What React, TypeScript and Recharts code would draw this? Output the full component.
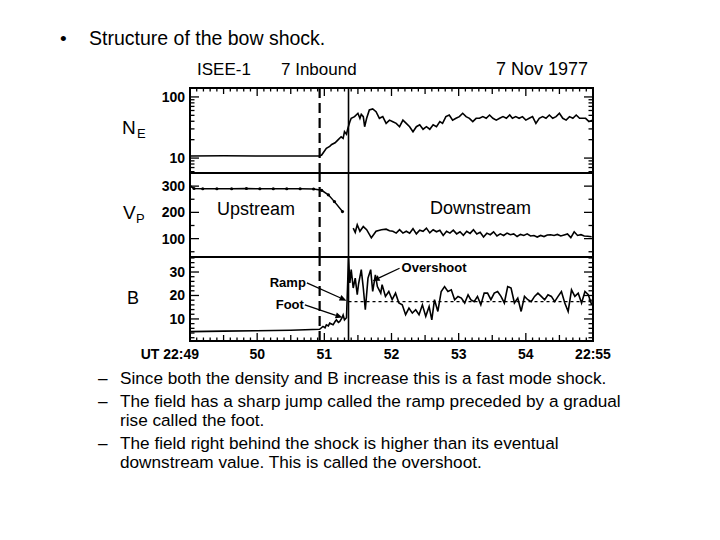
import React from "react";
import { LineChart, Line, XAxis, YAxis, ReferenceLine, ReferenceArea } from "recharts";

const FONT = "'Liberation Sans', Arial, Helvetica, sans-serif";

// time axis: minutes after 22:49 UT
const X_TICK_LABELS = ["UT 22:49", "50", "51", "52", "53", "54", "22:55"];
const FOOT_START = 1.93;
const SHOCK_RAMP = 2.36;

// electron density N_E (cm^-3)
const NE_T = [0, 0.5, 1.0, 1.5, 1.93, 1.96, 2.03, 2.08, 2.11, 2.16, 2.2, 2.25, 2.28, 2.3, 2.33, 2.35, 2.38, 2.4, 2.45, 2.5, 2.53, 2.55, 2.58, 2.6, 2.63, 2.67, 2.72, 2.77, 2.82, 2.87, 2.92, 2.97, 3.02, 3.07, 3.12, 3.17, 3.22, 3.27, 3.32, 3.37, 3.42, 3.47, 3.52, 3.57, 3.62, 3.67, 3.72, 3.76, 3.81, 3.86, 3.91, 3.96, 4.01, 4.06, 4.11, 4.16, 4.21, 4.26, 4.31, 4.36, 4.41, 4.46, 4.51, 4.56, 4.61, 4.66, 4.71, 4.76, 4.8, 4.85, 4.9, 4.95, 5.0, 5.05, 5.1, 5.15, 5.2, 5.25, 5.3, 5.35, 5.4, 5.45, 5.5, 5.55, 5.6, 5.65, 5.7, 5.75, 5.8, 5.84, 5.89, 5.94, 6.0];
const NE_V = [10.8, 10.9, 10.8, 10.8, 10.8, 11.2, 14.4, 15.5, 16.7, 17.8, 19.7, 22.3, 21, 27, 24.5, 30.6, 39.4, 44.7, 47.6, 54, 44.7, 52, 47.6, 32.6, 44.7, 61.2, 63.6, 57.4, 44.7, 47.6, 37, 41.8, 39.4, 37, 32.6, 41.8, 37, 32.6, 27, 32.6, 35, 29.6, 32.6, 29.6, 35, 32.6, 39.4, 37, 47.6, 50.6, 41.8, 44.7, 47.6, 54, 47.6, 44.7, 39.4, 44.7, 44.7, 47.6, 44.7, 50.6, 44.7, 41.8, 44.7, 47.6, 44.7, 50.6, 44.7, 47.6, 44.7, 47.6, 41.8, 44.7, 47.6, 37, 44.7, 47.6, 44.7, 50.6, 44.7, 47.6, 54, 44.7, 41.8, 47.6, 44.7, 50.6, 44.7, 44.7, 44.7, 39.4, 42];
const NE_TICKS = [6, 7, 8, 9, 10, 20, 30, 40, 50, 60, 70, 80, 90, 100];
const NE_LABELS = [10, 100];

// proton velocity V_P (km/s)
const VP_UP_T = [0, 0.06, 0.19, 0.4, 0.62, 0.84, 1.04, 1.24, 1.44, 1.64, 1.84, 1.96, 2.06, 2.15, 2.27];
const VP_UP_V = [300, 291, 290, 290, 290, 291, 290, 290, 290, 290, 289, 284, 267, 241, 203];
const VP_DN_T = [2.43, 2.46, 2.49, 2.53, 2.58, 2.63, 2.7, 2.77, 2.85, 2.92, 2.97, 3.02, 3.07, 3.12, 3.17, 3.22, 3.27, 3.32, 3.37, 3.42, 3.47, 3.52, 3.57, 3.62, 3.67, 3.72, 3.77, 3.82, 3.87, 3.92, 3.97, 4.02, 4.07, 4.12, 4.17, 4.22, 4.27, 4.32, 4.37, 4.42, 4.47, 4.52, 4.57, 4.62, 4.67, 4.72, 4.77, 4.82, 4.87, 4.92, 4.97, 5.02, 5.07, 5.12, 5.17, 5.22, 5.27, 5.32, 5.37, 5.42, 5.47, 5.52, 5.57, 5.62, 5.67, 5.72, 5.77, 5.82, 5.87, 5.92, 5.98];
const VP_DN_V = [140, 124, 153, 128, 146, 134, 103, 128, 134, 136, 130, 128, 121, 134, 121, 128, 121, 138, 118, 132, 128, 140, 122, 134, 126, 132, 112, 128, 121, 132, 118, 126, 113, 128, 120, 134, 118, 124, 106, 121, 115, 126, 110, 118, 112, 121, 115, 118, 108, 116, 112, 118, 110, 112, 106, 112, 108, 114, 115, 112, 116, 110, 114, 118, 104, 126, 112, 115, 110, 109, 107];
const VP_TICKS = [50, 100, 150, 200, 250, 300];
const VP_LABELS = [100, 200, 300];

// magnetic field B (nT)
const B_T = [0, 0.5, 1.0, 1.5, 1.93, 1.98, 2.01, 2.03, 2.06, 2.08, 2.13, 2.16, 2.18, 2.21, 2.23, 2.26, 2.28, 2.3, 2.33, 2.36, 2.38, 2.4, 2.43, 2.46, 2.49, 2.51, 2.55, 2.58, 2.61, 2.65, 2.69, 2.72, 2.76, 2.79, 2.84, 2.86, 2.91, 2.96, 3.01, 3.06, 3.11, 3.16, 3.21, 3.26, 3.31, 3.36, 3.41, 3.46, 3.51, 3.56, 3.6, 3.64, 3.69, 3.74, 3.79, 3.84, 3.89, 3.94, 3.99, 4.04, 4.09, 4.14, 4.18, 4.23, 4.28, 4.33, 4.38, 4.43, 4.48, 4.53, 4.58, 4.63, 4.68, 4.73, 4.78, 4.83, 4.88, 4.93, 4.98, 5.03, 5.08, 5.13, 5.18, 5.23, 5.28, 5.33, 5.38, 5.43, 5.48, 5.53, 5.58, 5.63, 5.68, 5.73, 5.78, 5.83, 5.88, 5.93, 5.98];
const B_V = [4.6, 4.8, 5.0, 5.2, 5.6, 6.8, 6.2, 7.5, 7.0, 8.2, 7.5, 8.9, 9.6, 8.5, 8.9, 10.3, 11.7, 9.6, 10.5, 36, 25.3, 31, 23.2, 27.4, 20.3, 25, 31, 23.2, 13.9, 27.4, 31, 21.7, 28.8, 23.8, 21.0, 24.6, 19.6, 21.7, 18.2, 21.0, 16.8, 16.0, 11.8, 14.6, 12.5, 13.9, 11.8, 16.0, 11.1, 15.3, 9.6, 18.2, 13.2, 21.7, 23.8, 21.7, 22.4, 18.2, 19.6, 18.9, 16.8, 20.3, 18.2, 17.4, 19.6, 16.0, 21.0, 21.0, 18.2, 21.0, 21.7, 19.6, 16.8, 23.8, 23.2, 16.8, 18.9, 13.2, 19.6, 18.2, 17.4, 19.6, 21.0, 19.6, 18.2, 20.3, 19.6, 17.4, 19.6, 21.7, 16.8, 13.2, 22.4, 19.6, 21.0, 16.8, 21.7, 20.3, 16.0];
const B_DOWNSTREAM = 17.4;
const B_TICKS = [2, 4, 6, 8, 10, 12, 14, 16, 18, 20, 22, 24, 26, 28, 30, 32, 34, 36];
const B_LABELS = [10, 20, 30];

const BULLETS = [
  ["Since both the density and B increase this is a fast mode shock."],
  ["The field has a sharp jump called the ramp preceded by a gradual", "rise called the foot."],
  ["The field right behind the shock is higher than its eventual", "downstream value. This is called the overshoot."],
];

const rows = (t: number[], v: number[]) => t.map((x, i) => ({ t: x, v: v[i] }));
const neData = rows(NE_T, NE_V);
const vpUp = rows(VP_UP_T, VP_UP_V);
const vpDown = rows(VP_DN_T, VP_DN_V);
const bData = rows(B_T, B_V);

const X_TICKS = Array.from({ length: 61 }, (_, i) => i / 10);

const W = 720;
const H = 540;
const PLOT_LEFT = 190;
const PLOT_RIGHT = 593;
const NE_TOP = 88;
const NE_BOTTOM = 173;
const VP_BOTTOM = 257;
const B_BOTTOM = 341;
const LEFT_AXIS_W = 40;
const RIGHT_AXIS_W = 20;
const X_AXIS_H = 20;

const tickLen = (t: number) => {
  const r = Math.round(t * 10);
  if (r % 10 === 0) return 8;
  if (r % 5 === 0) return 6;
  return 3.5;
};

const topTick = (p: any) => {
  const { x, y, payload } = p;
  return <line x1={x} y1={y} x2={x} y2={y + tickLen(payload.value)} stroke="#000" strokeWidth={1.3} />;
};

const bottomTick = (p: any) => {
  const { x, y, payload } = p;
  const t = payload.value;
  const r = Math.round(t * 10);
  const idx = r / 10;
  return (
    <g>
      <line x1={x} y1={y} x2={x} y2={y - tickLen(t)} stroke="#000" strokeWidth={1.3} />
      {r % 10 === 0 && (
        <text x={idx === 0 ? x + 9 : x} y={y + 18} textAnchor={idx === 0 ? "end" : "middle"} fontSize={14} fontWeight="bold" fontFamily={FONT} fill="#000">
          {X_TICK_LABELS[idx]}
        </text>
      )}
    </g>
  );
};

const leftTick = (labels: number[]) => (p: any) => {
  const { x, y, payload } = p;
  const major = labels.includes(payload.value);
  return (
    <g>
      <line x1={x} y1={y} x2={x + (major ? 9 : 4.5)} y2={y} stroke="#000" strokeWidth={1.3} />
      {major && (
        <text x={x - 5} y={y + 5} textAnchor="end" fontSize={14} fontWeight="bold" fontFamily={FONT} fill="#000">
          {payload.value}
        </text>
      )}
    </g>
  );
};

const rightTick = (labels: number[]) => (p: any) => {
  const { x, y, payload } = p;
  const major = labels.includes(payload.value);
  return <line x1={x} y1={y} x2={x - (major ? 9 : 4.5)} y2={y} stroke="#000" strokeWidth={1.3} />;
};

const arrowShape = (text: string, side: "left" | "right") => (p: any) => {
  const { x1, y1, x2, y2 } = p;
  if (x1 == null) return null;
  const a = Math.atan2(y2 - y1, x2 - x1);
  const L = 7;
  const hw = 3;
  const bx = x2 - L * Math.cos(a);
  const by = y2 - L * Math.sin(a);
  const pts = `${x2},${y2} ${bx - hw * Math.sin(a)},${by + hw * Math.cos(a)} ${bx + hw * Math.sin(a)},${by - hw * Math.cos(a)}`;
  return (
    <g>
      <line x1={x1} y1={y1} x2={bx} y2={by} stroke="#000" strokeWidth={1.3} />
      <polygon points={pts} fill="#000" />
      <text
        x={side === "left" ? x1 - 1 : x1 + 2}
        y={y1 + 4}
        textAnchor={side === "left" ? "end" : "start"}
        fontSize={13}
        fontWeight="bold"
        fontFamily={FONT}
        fill="#000"
      >
        {text}
      </text>
    </g>
  );
};

const shockLines = [
  <ReferenceLine key="foot" x={FOOT_START} stroke="#000" strokeWidth={2.2} strokeDasharray="10 5" ifOverflow="visible" />,
  <ReferenceLine key="ramp" x={SHOCK_RAMP} stroke="#000" strokeWidth={1.6} ifOverflow="visible" />,
];

const yAxisProps = { interval: 0 as const, tickSize: 0, tickMargin: 0, axisLine: false, tickLine: false, allowDataOverflow: true };

const abs: React.CSSProperties = { position: "absolute", left: 0, top: 0 };

const sideMargins = { left: PLOT_LEFT - LEFT_AXIS_W, right: W - PLOT_RIGHT - RIGHT_AXIS_W };

export default function App() {
  return (
    <div style={{ ...abs, width: W, height: H, background: "#fff", fontFamily: FONT }}>
      {/* N_E panel */}
      <div style={abs}>
        <LineChart width={W} height={H} margin={{ top: NE_TOP - X_AXIS_H, bottom: H - NE_BOTTOM, ...sideMargins }}>
          <XAxis orientation="top" type="number" dataKey="t" domain={[0, 6]} ticks={X_TICKS} interval={0} height={X_AXIS_H} tickSize={0} tickMargin={0} axisLine={false} tickLine={false} tick={topTick} allowDataOverflow />
          <YAxis yAxisId="l" scale="log" domain={[5.7, 140]} ticks={NE_TICKS} width={LEFT_AXIS_W} tick={leftTick(NE_LABELS)} {...yAxisProps} />
          <YAxis yAxisId="r" orientation="right" scale="log" domain={[5.7, 140]} ticks={NE_TICKS} width={RIGHT_AXIS_W} tick={rightTick(NE_LABELS)} {...yAxisProps} />
          <ReferenceArea yAxisId="l" x1={0} x2={6} y1={5.7} y2={140} fill="none" stroke="#000" strokeWidth={2} ifOverflow="visible" />
          {shockLines.map((l) => React.cloneElement(l, { yAxisId: "l" }))}
          <Line yAxisId="l" data={neData} dataKey="v" type="linear" stroke="#000" strokeWidth={1.6} dot={false} isAnimationActive={false} />
        </LineChart>
      </div>

      {/* V_P panel */}
      <div style={abs}>
        <LineChart width={W} height={H} margin={{ top: NE_BOTTOM, bottom: H - VP_BOTTOM, ...sideMargins }}>
          <XAxis type="number" dataKey="t" domain={[0, 6]} hide allowDataOverflow />
          <YAxis yAxisId="l" domain={[30, 350]} ticks={VP_TICKS} width={LEFT_AXIS_W} tick={leftTick(VP_LABELS)} {...yAxisProps} />
          <YAxis yAxisId="r" orientation="right" domain={[30, 350]} ticks={VP_TICKS} width={RIGHT_AXIS_W} tick={rightTick(VP_LABELS)} {...yAxisProps} />
          <ReferenceArea yAxisId="l" x1={0} x2={6} y1={30} y2={350} fill="none" stroke="#000" strokeWidth={2} ifOverflow="visible" />
          {shockLines.map((l) => React.cloneElement(l, { yAxisId: "l" }))}
          <Line yAxisId="l" data={vpUp} dataKey="v" type="linear" stroke="#000" strokeWidth={1.5} dot={{ r: 1.6, fill: "#000", stroke: "none" }} isAnimationActive={false} />
          <Line yAxisId="l" data={vpDown} dataKey="v" type="linear" stroke="#000" strokeWidth={1.6} dot={false} isAnimationActive={false} />
        </LineChart>
      </div>

      {/* B panel */}
      <div style={abs}>
        <LineChart width={W} height={H} margin={{ top: VP_BOTTOM, bottom: H - B_BOTTOM - X_AXIS_H, ...sideMargins }}>
          <XAxis type="number" dataKey="t" domain={[0, 6]} ticks={X_TICKS} interval={0} height={X_AXIS_H} tickSize={0} tickMargin={0} axisLine={false} tickLine={false} tick={bottomTick} allowDataOverflow />
          <YAxis yAxisId="l" domain={[0.6, 36.4]} ticks={B_TICKS} width={LEFT_AXIS_W} tick={leftTick(B_LABELS)} {...yAxisProps} />
          <YAxis yAxisId="r" orientation="right" domain={[0.6, 36.4]} ticks={B_TICKS} width={RIGHT_AXIS_W} tick={rightTick(B_LABELS)} {...yAxisProps} />
          <ReferenceArea yAxisId="l" x1={0} x2={6} y1={0.6} y2={36.4} fill="none" stroke="#000" strokeWidth={2} ifOverflow="visible" />
          {shockLines.map((l) => React.cloneElement(l, { yAxisId: "l" }))}
          <ReferenceLine yAxisId="l" segment={[{ x: SHOCK_RAMP, y: B_DOWNSTREAM }, { x: 6, y: B_DOWNSTREAM }]} stroke="#000" strokeWidth={1.2} strokeDasharray="3 3" ifOverflow="visible" />
          <Line yAxisId="l" data={bData} dataKey="v" type="linear" stroke="#000" strokeWidth={1.6} dot={false} isAnimationActive={false} />
          <ReferenceLine yAxisId="l" segment={[{ x: 1.74, y: 25.4 }, { x: 2.33, y: 17.8 }]} ifOverflow="visible" shape={arrowShape("Ramp", "left")} />
          <ReferenceLine yAxisId="l" segment={[{ x: 1.71, y: 16.0 }, { x: 2.27, y: 10.6 }]} ifOverflow="visible" shape={arrowShape("Foot", "left")} />
          <ReferenceLine yAxisId="l" segment={[{ x: 3.12, y: 31.6 }, { x: 2.72, y: 26.2 }]} ifOverflow="visible" shape={arrowShape("Overshoot", "right")} />
        </LineChart>
      </div>

      {/* slide text and figure labels */}
      <svg width={W} height={H} style={{ ...abs, pointerEvents: "none" }}>
        <g fontFamily={FONT} fill="#000">
          <text x={60} y={45} fontSize={19}>•</text>
          <text x={89} y={45} fontSize={19.5}>Structure of the bow shock.</text>

          <text x={197} y={75} fontSize={17}>ISEE-1</text>
          <text x={281} y={75} fontSize={17}>7 Inbound</text>
          <text x={588} y={75} fontSize={18} textAnchor="end">7 Nov 1977</text>

          <text x={122} y={134} fontSize={19}>N</text>
          <text x={137} y={138} fontSize={13}>E</text>
          <text x={123} y={219} fontSize={19}>V</text>
          <text x={136} y={223} fontSize={13}>P</text>
          <text x={127} y={304} fontSize={18}>B</text>

          <text x={217} y={215} fontSize={18}>Upstream</text>
          <text x={430} y={214} fontSize={18}>Downstream</text>

          {BULLETS.map((lines, i) => {
            const base = [384, 407, 449][i];
            return (
              <g key={i} fontSize={17.2}>
                <text x={98} y={base}>–</text>
                {lines.map((s, j) => (
                  <text key={j} x={120} y={base + j * 19}>{s}</text>
                ))}
              </g>
            );
          })}
        </g>
      </svg>
    </div>
  );
}
